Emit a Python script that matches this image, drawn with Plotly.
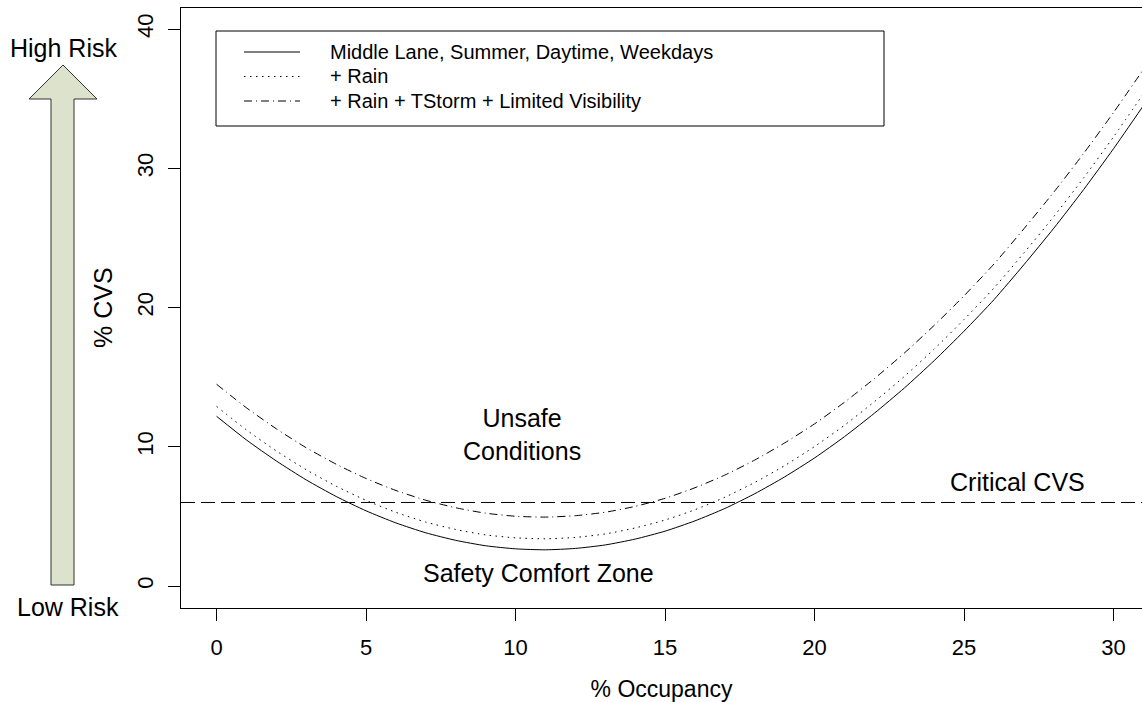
import plotly.graph_objects as go

# % occupancy grid and the three %CVS response curves
occupancy = list(range(0, 32))
cvs_base = [12.19, 10.49, 8.98, 7.62, 6.43, 5.40, 4.53, 3.82, 3.28, 2.89, 2.67, 2.60,
            2.70, 2.95, 3.37, 3.94, 4.68, 5.57, 6.63, 7.84, 9.20, 10.73, 12.41, 14.22,
            16.19, 18.31, 20.57, 23.08, 25.70, 28.48, 31.42, 34.52]
cvs_rain = [12.90, 11.21, 9.70, 8.35, 7.17, 6.15, 5.29, 4.59, 4.06, 3.67, 3.46, 3.39,
            3.49, 3.74, 4.17, 4.74, 5.48, 6.38, 7.44, 8.65, 10.02, 11.55, 13.24, 15.05,
            17.02, 19.15, 21.41, 23.92, 26.54, 29.32, 32.27, 35.37]
cvs_storm = [14.49, 12.80, 11.29, 9.93, 8.75, 7.72, 6.86, 6.16, 5.62, 5.23, 5.01, 4.95,
             5.05, 5.30, 5.72, 6.30, 7.06, 7.97, 9.05, 10.28, 11.65, 13.20, 14.90, 16.73,
             18.72, 20.85, 23.13, 25.66, 28.29, 31.08, 34.02, 37.12]
critical_cvs = 6

series_names = ["Middle Lane, Summer, Daytime, Weekdays",
                "+ Rain",
                "+ Rain + TStorm + Limited Visibility"]
series_dash = ["solid", "1.5px,4.5px", "8px,4px,1px,4px"]
x_ticks = [0, 5, 10, 15, 20, 25, 30]
y_ticks = [0, 10, 20, 30, 40]

W, H = 1142, 702
ML, MR, MT, MB = 181, 0, 8, 94
FONT = "Liberation Sans, Arial, sans-serif"
FS_TICK = 22
FS_LEGEND = 20
FS_TEXT = 25


def px_x(px):
    return (px - ML) / (W - ML - MR)


def px_y(py):
    return (H - MB - py) / (H - MT - MB)


fig = go.Figure()
for ys, name, dash in zip([cvs_base, cvs_rain, cvs_storm], series_names, series_dash):
    fig.add_trace(go.Scatter(
        x=occupancy, y=ys, name=name, mode="lines",
        line=dict(color="black", width=1, dash=dash, shape="spline", smoothing=0.6),
        showlegend=False,
    ))

# critical CVS threshold across the whole panel
fig.add_shape(type="line", xref="paper", yref="y", x0=0, x1=1, y0=critical_cvs, y1=critical_cvs,
              line=dict(color="black", width=1, dash="14px,6px"))

# legend box with sample lines
fig.add_shape(type="rect", xref="paper", yref="paper",
              x0=px_x(216), x1=px_x(884), y0=px_y(31), y1=px_y(126),
              line=dict(color="black", width=1), fillcolor="white", layer="below")
for i, (name, dash) in enumerate(zip(series_names, series_dash)):
    row = 52 + i * 24.5
    fig.add_shape(type="line", xref="paper", yref="paper",
                  x0=px_x(244), x1=px_x(300), y0=px_y(row), y1=px_y(row),
                  line=dict(color="black", width=1, dash=dash))
    fig.add_annotation(text=name, xref="paper", yref="paper", x=px_x(328), y=px_y(row),
                       xanchor="left", yanchor="middle", showarrow=False,
                       font=dict(family=FONT, size=FS_LEGEND, color="black"))

# risk arrow on the left
arrow_pts = [(63, 65), (97, 99), (74, 99), (74, 585), (51, 585), (51, 99), (29, 99)]
path = "M " + " L ".join(f"{px_x(a):.5f},{px_y(b):.5f}" for a, b in arrow_pts) + " Z"
fig.add_shape(type="path", xref="paper", yref="paper", path=path,
              fillcolor="#dde2cc", line=dict(color="#333333", width=1))

texts = [
    ("High Risk", 63, 48, 0),
    ("Low Risk", 68, 607, 0),
    ("% CVS", 103, 308, -90),
]
for t, x, y, ang in texts:
    fig.add_annotation(text=t, xref="paper", yref="paper", x=px_x(x), y=px_y(y),
                       xanchor="center", yanchor="middle", showarrow=False, textangle=ang,
                       font=dict(family=FONT, size=FS_TEXT, color="black"))

# region labels inside the panel
fig.add_annotation(text="Unsafe<br>Conditions", x=10.2, y=10.9, showarrow=False,
                   font=dict(family=FONT, size=FS_TEXT, color="black"))
fig.add_annotation(text="Safety Comfort Zone", x=10.75, y=0.91, showarrow=False,
                   font=dict(family=FONT, size=FS_TEXT, color="black"))
fig.add_annotation(text="Critical CVS", x=26.8, y=7.45, showarrow=False,
                   font=dict(family=FONT, size=FS_TEXT, color="black"))

fig.update_layout(
    width=W, height=H, autosize=False,
    margin=dict(l=ML, r=MR, t=MT, b=MB, pad=0),
    paper_bgcolor="white", plot_bgcolor="white",
    font=dict(family=FONT, size=FS_TICK, color="black"),
    xaxis=dict(range=[-1.19, 30.95], tickvals=x_ticks, ticks="outside", ticklen=12,
               tickcolor="black", tickwidth=1, showline=True, linecolor="black", linewidth=1,
               mirror=True, showgrid=False, zeroline=False, ticklabelstandoff=8,
               title=dict(text="% Occupancy", standoff=22, font=dict(family=FONT, size=23))),
    yaxis=dict(range=[-1.58, 41.52], tickvals=y_ticks, ticks="outside", ticklen=12,
               tickcolor="black", tickwidth=1, showline=True, linecolor="black", linewidth=1,
               mirror=False, showgrid=False, zeroline=False, tickangle=-90,
               ticklabelstandoff=6),
)

fig.write_html("out.html")
